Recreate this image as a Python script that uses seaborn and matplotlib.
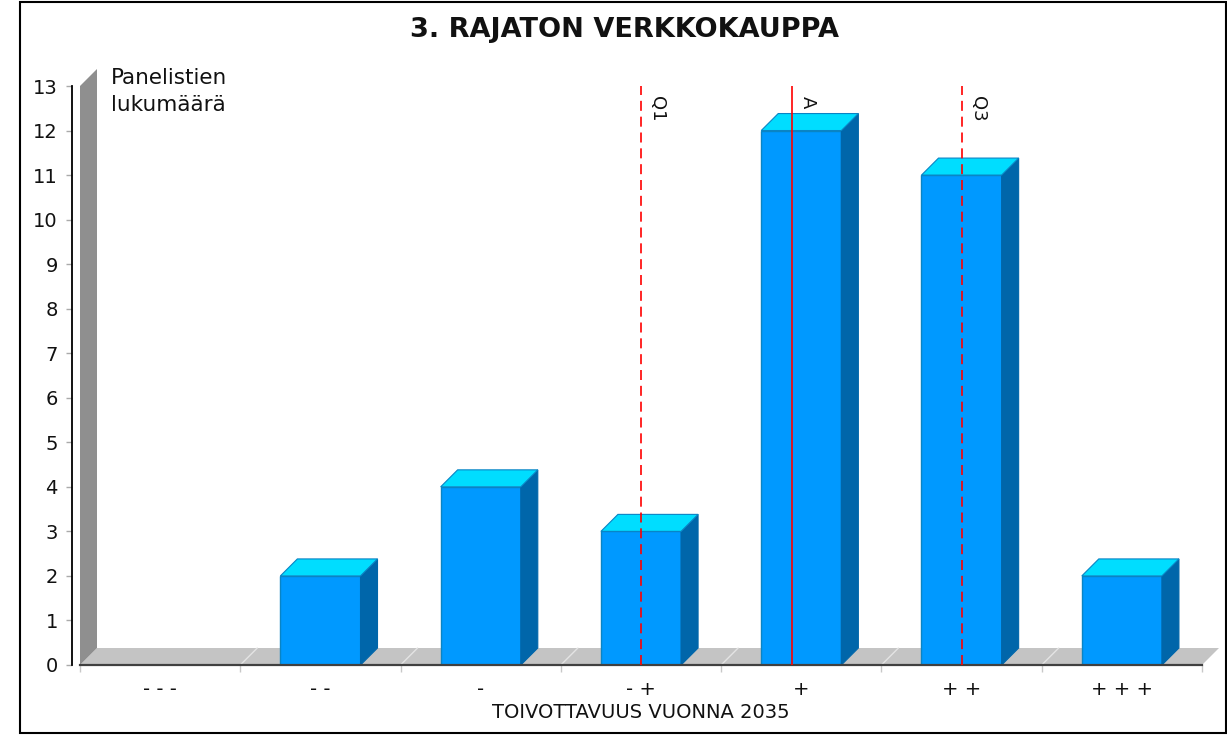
import matplotlib
matplotlib.use("Agg")
import matplotlib.pyplot as plt
from matplotlib.patches import Polygon, Rectangle
import numpy as np
import pandas as pd
import seaborn as sns

# ---- data ----
categories = ["- - -", "- -", "-", "- +", "+", "+ +", "+ + +"]
counts = [0, 2, 4, 3, 12, 11, 2]
marker_names = ["Q1", "A", "Q3"]
marker_positions = [3.0, 3.94, 5.0]   # category positions (0-based)
marker_styles = ["dashed", "solid", "dashed"]
y_ticks = list(range(0, 14))
title = "3. RAJATON VERKKOKAUPPA"
x_label = "TOIVOTTAVUUS VUONNA 2035"
y_label = "Panelistien\nlukumäärä"

# ---- style ----
sns.set_style("white")
plt.rcParams["font.family"] = ["DejaVu Sans"]

FRONT = "#0099FF"
TOP = "#00DDFF"
SIDE = "#0066AA"
EDGE = "#0A84C4"
FLOOR = "#C4C4C4"
WALL = "#8F8F8F"
TXT = "#111111"
DEPTH_PX = 17

W, H = 1227, 735
fig = plt.figure(figsize=(W / 100, H / 100), dpi=100)
ax = fig.add_axes([80 / W, 70 / H, 1122 / W, 579 / H])

df = pd.DataFrame({"luokka": categories, "lukumaara": counts})
sns.barplot(data=df, x="luokka", y="lukumaara", order=categories, color=FRONT,
            saturation=1, width=0.5, edgecolor=EDGE, linewidth=1.0, ax=ax, zorder=3)

n = len(categories)
ymax = max(y_ticks)
ax.set_xlim(-0.5, n - 0.5)
ax.set_ylim(0, ymax)

# depth offsets in data units
pos = ax.get_position()
ax_w_px = pos.width * W
ax_h_px = pos.height * H
dx = DEPTH_PX / (ax_w_px / n)
dy = DEPTH_PX / (ax_h_px / ymax)

# floor and wall
floor = Polygon([(-0.5, 0), (n - 0.5, 0), (n - 0.5 + dx, dy), (-0.5 + dx, dy)],
                closed=True, fc=FLOOR, ec="none", zorder=1, clip_on=False)
ax.add_patch(floor)
wall = Polygon([(-0.5, 0), (-0.5 + dx, dy), (-0.5 + dx, ymax + dy), (-0.5, ymax)],
               closed=True, fc=WALL, ec="none", zorder=1, clip_on=False)
ax.add_patch(wall)
for b in np.arange(0.5, n - 1, 1.0):
    ax.plot([b, b + dx], [0, dy], color="#E4E4E4", lw=1, zorder=2, clip_on=False)

# 3D faces for bars
for p in list(ax.patches):
    if p in (floor, wall):
        continue
    x0, w, h = p.get_x(), p.get_width(), p.get_height()
    if h <= 0:
        p.set_visible(False)
        continue
    top = Polygon([(x0, h), (x0 + w, h), (x0 + w + dx, h + dy), (x0 + dx, h + dy)],
                  closed=True, fc=TOP, ec=EDGE, lw=0.8, zorder=3, clip_on=False)
    side = Polygon([(x0 + w, 0), (x0 + w + dx, dy), (x0 + w + dx, h + dy), (x0 + w, h)],
                   closed=True, fc=SIDE, ec=SIDE, lw=0.8, zorder=3, clip_on=False)
    ax.add_patch(side)
    ax.add_patch(top)

# marker lines
for name, xpos, ls in zip(marker_names, marker_positions, marker_styles):
    style = (0, (6, 3.5)) if ls == "dashed" else "-"
    ax.axvline(xpos, color="red", lw=1.2, ls=style, zorder=5)
    ax.annotate(name, xy=(xpos, ymax), xytext=(5, -7), textcoords="offset points",
                rotation=-90, ha="left", va="top", fontsize=13, color=TXT, zorder=6)

# axes styling
for s in ["top", "right"]:
    ax.spines[s].set_visible(False)
ax.spines["left"].set_position(("outward", 6))
ax.spines["left"].set_color("black")
ax.spines["left"].set_linewidth(1.3)
ax.spines["bottom"].set_color("#404040")
ax.spines["bottom"].set_linewidth(1.6)
ax.spines["bottom"].set_zorder(4)

ax.set_yticks(y_ticks)
ax.tick_params(axis="y", length=4, width=1, color="#AAAAAA", pad=6,
               labelsize=14, labelcolor=TXT, left=True)
ax.set_xticks(range(n))
ax.set_xticklabels(categories)
ax.tick_params(axis="x", which="major", length=0, pad=11, labelsize=14, labelcolor=TXT)
ax.set_xticks(np.arange(-0.5, n, 1.0), minor=True)
ax.tick_params(axis="x", which="minor", length=5, width=1, color="#C8C8C8", bottom=True)

ax.set_xlabel(x_label, fontsize=14, color=TXT, labelpad=3)
ax.set_ylabel(y_label, fontsize=15.5, color=TXT, rotation=0, ha="left", va="top",
              linespacing=1.45)
ax.yaxis.set_label_coords((111 - 80) / ax_w_px, 1 + (86 - 68) / ax_h_px)

fig.text(624 / W, 1 - 30 / H, title, ha="center", va="center",
         fontsize=19.5, fontweight="bold", color=TXT)

fig.patches.append(Rectangle((20 / W, 2 / H), (1226 - 20) / W, (733 - 2) / H,
                             transform=fig.transFigure, fill=False, ec="black", lw=1.5))

fig.savefig("out.png", dpi=100)
